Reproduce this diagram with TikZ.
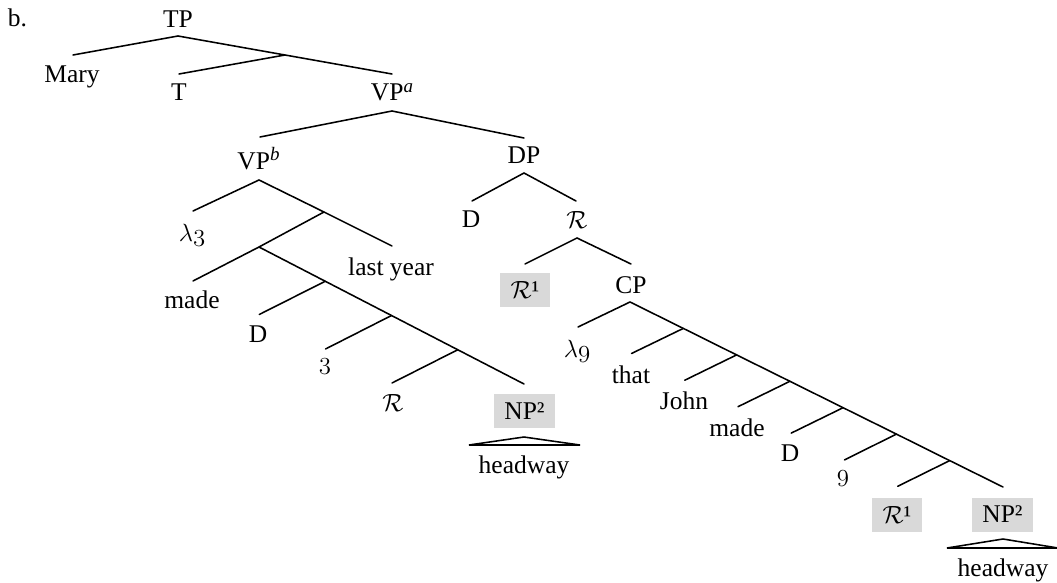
\documentclass[tikz,border=0pt]{standalone}
\usepackage{fontspec}
\setmainfont{Liberation Serif}
% old-style figures from the math italic font
\newcommand{\oldfig}[1]{{\usefont{OML}{cmm}{m}{it}#1}}
% raised italic index on a category label
\newcommand{\supit}[1]{\raisebox{0.32em}{\fontsize{19}{19}\selectfont\itshape #1}}
\definecolor{hlgray}{HTML}{D9D9D9}
\begin{document}
\begin{tikzpicture}[x=1pt,y=-1pt,
  lbl/.style={anchor=base,inner sep=0pt,font=\fontsize{25.5}{30}\selectfont},
  hl/.style={fill=hlgray,inner sep=0pt,minimum height=34pt,font=\fontsize{25.5}{30}\selectfont},
  edge/.style={line width=1.55pt,line cap=round},
  roof/.style={line width=1.55pt,line join=bevel}
]
\useasboundingbox (0,0) rectangle (1057,583);

% ---------- labels ----------
\node[lbl] (b) at (17.5,27) {b.};
\node[lbl] (tp) at (178,28) {TP};
\node[lbl] (mary) at (72,83) {Mary};
\node[lbl] (t) at (179,101) {T};
\node[lbl] (vpa) at (392,101) {VP\supit{a}};
\node[lbl] (vpb) at (258.5,169) {VP\supit{b}};
\node[lbl] (dp) at (524,164) {DP};
\node[lbl] (lam3) at (192,241) {$\lambda$\oldfig{3}};
\node[lbl] (lastyear) at (391,275) {last year};
\node[lbl] (made1) at (192,308) {made};
\node[lbl] (d1) at (258,342) {D};
\node[lbl] (three) at (325,369) {\oldfig{3}};
\node[lbl] (r1) at (393,411) {$\mathcal{R}$};
\node[hl,minimum width=61pt] (np1) at (524.5,411) {NP²};
\node[lbl] (hw1) at (524,473) {headway};

\node[lbl] (d2) at (471,227.5) {D};
\node[lbl] (r2) at (577,228) {$\mathcal{R}$};
\node[hl,minimum width=50pt] (rr1) at (525,290) {$\mathcal{R}$¹};
\node[lbl] (cp) at (631,293) {CP};
\node[lbl] (lam9) at (577,357) {$\lambda$\oldfig{9}};
\node[lbl] (that) at (631,383) {that};
\node[lbl] (john) at (684,409) {John};
\node[lbl] (made2) at (737,436.5) {made};
\node[lbl] (d3) at (790,461.5) {D};
\node[lbl] (nine) at (843,481) {\oldfig{9}};
\node[hl,minimum width=50pt] (rr2) at (897,514.5) {$\mathcal{R}$¹};
\node[hl,minimum width=61pt] (np2) at (1002.5,514.5) {NP²};
\node[lbl] (hw2) at (1003,576) {headway};

% ---------- branch points ----------
\coordinate (tp-b) at (178,36);
\coordinate (mary-t) at (73,55);
\coordinate (j1) at (285,55);
\coordinate (t-t) at (179,74);
\coordinate (vpa-t) at (392,74);
\coordinate (vpa-b) at (392,111);
\coordinate (vpb-t) at (260,137);
\coordinate (dp-t) at (524,138);

\coordinate (vpb-b) at (259,180);
\coordinate (lam3-t) at (193,211);
\coordinate (j2) at (324,212);
\coordinate (ly-t) at (392,246);
\coordinate (j3) at (259,247);
\coordinate (made1-t) at (193,281);
\coordinate (j4) at (325.25,281.25);
\coordinate (j5) at (391.5,315.5);
\coordinate (j6) at (457.75,349.75);
\coordinate (np1-t) at (524,384);
\coordinate (d1-t) at (259.25,314.5);
\coordinate (three-t) at (325.5,349);
\coordinate (r1-t) at (392,383);
\coordinate (tri1-a) at (524,437);
\coordinate (tri1-l) at (469,445);
\coordinate (tri1-r) at (580,445);

\coordinate (dp-b) at (524,173);
\coordinate (d2-t) at (472,201);
\coordinate (r2-t) at (576,201);
\coordinate (r2-b) at (577,238);
\coordinate (rr1-t) at (525,264);
\coordinate (cp-t) at (631,264);
\coordinate (cp-b) at (630,302);
\coordinate (lam9-t) at (578,327);
\coordinate (m1) at (683.3,328.4);
\coordinate (m2) at (736.6,354.9);
\coordinate (m3) at (789.9,381.3);
\coordinate (m4) at (843.1,407.7);
\coordinate (m5) at (896.4,434.1);
\coordinate (m6) at (949.7,460.6);
\coordinate (np2-t) at (1003,487);
\coordinate (that-t) at (631.5,353.5);
\coordinate (john-t) at (684.8,380.2);
\coordinate (made2-t) at (738,406.7);
\coordinate (d3-t) at (791.2,433.1);
\coordinate (nine-t) at (844.5,459.9);
\coordinate (rr2-t) at (897.7,486.3);
\coordinate (tri2-a) at (1003,539);
\coordinate (tri2-l) at (947,548);
\coordinate (tri2-r) at (1058,548);

% ---------- branches ----------
\draw[edge] (tp-b) -- (mary-t);
\draw[edge] (tp-b) -- (j1) -- (vpa-t);
\draw[edge] (j1) -- (t-t);
\draw[edge] (vpa-b) -- (vpb-t);
\draw[edge] (vpa-b) -- (dp-t);

\draw[edge] (vpb-b) -- (lam3-t);
\draw[edge] (vpb-b) -- (j2) -- (ly-t);
\draw[edge] (j2) -- (j3) -- (made1-t);
\draw[edge] (j3) -- (j4) -- (j5) -- (j6) -- (np1-t);
\draw[edge] (j4) -- (d1-t);
\draw[edge] (j5) -- (three-t);
\draw[edge] (j6) -- (r1-t);
\draw[roof] (tri1-l) -- (tri1-a) -- (tri1-r) -- cycle;

\draw[edge] (dp-b) -- (d2-t);
\draw[edge] (dp-b) -- (r2-t);
\draw[edge] (r2-b) -- (rr1-t);
\draw[edge] (r2-b) -- (cp-t);
\draw[edge] (cp-b) -- (lam9-t);
\draw[edge] (cp-b) -- (m1) -- (m2) -- (m3) -- (m4) -- (m5) -- (m6) -- (np2-t);
\draw[edge] (m1) -- (that-t);
\draw[edge] (m2) -- (john-t);
\draw[edge] (m3) -- (made2-t);
\draw[edge] (m4) -- (d3-t);
\draw[edge] (m5) -- (nine-t);
\draw[edge] (m6) -- (rr2-t);
\draw[roof] (tri2-l) -- (tri2-a) -- (tri2-r) -- cycle;
\end{tikzpicture}
\end{document}
